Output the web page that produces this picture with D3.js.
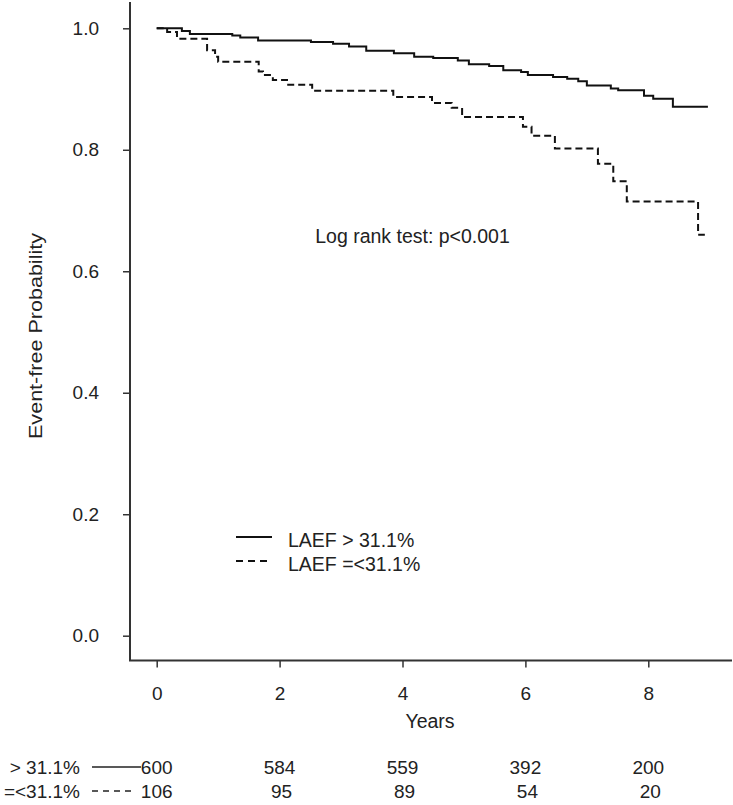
<!DOCTYPE html>
<html><head><meta charset="utf-8">
<script src="https://cdn.jsdelivr.net/npm/d3@7"></script>
<style>html,body{margin:0;padding:0;background:#fff;}svg{display:block;}</style>
</head><body>
<script>
// ---- data ----
const solidTimes = [0,0.41,0.54,1.23,1.36,1.65,2.51,2.87,3.13,3.41,3.86,4.19,4.50,4.90,5.08,5.41,5.64,5.93,6.04,6.45,6.68,6.86,7.00,7.39,7.51,7.93,8.08,8.40,8.97];
const solidSurv  = [1,0.9955,0.9906,0.988,0.985,0.980,0.9775,0.9747,0.970,0.963,0.959,0.953,0.951,0.947,0.941,0.938,0.931,0.928,0.923,0.920,0.917,0.913,0.906,0.901,0.898,0.889,0.884,0.871,0.871];
const dashedTimes = [0,0.17,0.33,0.82,0.95,1.00,1.66,1.73,1.89,2.12,2.53,3.85,4.48,4.80,4.97,5.96,6.10,6.48,7.18,7.43,7.65,8.81,8.92];
const dashedSurv  = [1,0.994,0.983,0.964,0.953,0.945,0.929,0.923,0.915,0.907,0.897,0.887,0.877,0.869,0.854,0.838,0.823,0.802,0.777,0.748,0.715,0.660,0.660];
const xTicks = [0,2,4,6,8];
const yTicks = [0,0.2,0.4,0.6,0.8,1.0];
const groupLabels = ["> 31.1%", "=<31.1%"];
const legendLabels = ["LAEF > 31.1%", "LAEF =<31.1%"];
const atRiskTimes = [0,2,4,6,8];
const atRiskSolid = [600,584,559,392,200];
const atRiskDashed = [106,95,89,54,20];
const annotation = "Log rank test: p<0.001";
const xTitle = "Years";
const yTitle = "Event-free Probability";

// ---- chart ----
const W = 733, H = 805;
const svg = d3.select("body").append("svg").attr("width", W).attr("height", H);
const font = "'Liberation Sans', Arial, sans-serif";
const axisCol = "#333";
const txtCol = "#222";
const x = d3.scaleLinear().domain([0, 8]).range([156.7, 648.3]);
const y = d3.scaleLinear().domain([0, 1]).range([635.7, 28.3]);
const axisX = 130, axisY = 660.5;

// axes lines
svg.append("line").attr("x1", axisX).attr("x2", axisX).attr("y1", 2).attr("y2", axisY)
  .attr("stroke", axisCol).attr("stroke-width", 2);
svg.append("line").attr("x1", axisX - 1).attr("x2", 732).attr("y1", axisY).attr("y2", axisY)
  .attr("stroke", axisCol).attr("stroke-width", 2);

// y axis
const yAx = svg.append("g").attr("transform", `translate(${axisX},0)`)
  .call(d3.axisLeft(y).tickValues(yTicks).tickFormat(d3.format(".1f")).tickSize(7).tickPadding(24));
yAx.select(".domain").remove();
yAx.selectAll(".tick line").attr("stroke", axisCol).attr("stroke-width", 1.5);
yAx.selectAll("text").attr("font-family", font).attr("font-size", 19).attr("fill", txtCol);

// x axis
const xAx = svg.append("g").attr("transform", `translate(0,${axisY})`)
  .call(d3.axisBottom(x).tickValues(xTicks).tickFormat(d3.format("d")).tickSize(7).tickPadding(19));
xAx.select(".domain").remove();
xAx.selectAll(".tick line").attr("stroke", axisCol).attr("stroke-width", 1.5);
xAx.selectAll("text").attr("font-family", font).attr("font-size", 19).attr("fill", txtCol);

// titles
svg.append("text").attr("x", 430).attr("y", 728).attr("text-anchor", "middle")
  .attr("font-family", font).attr("font-size", 19.5).attr("fill", txtCol).text(xTitle);
svg.append("text").attr("transform", "translate(42,336) rotate(-90)").attr("text-anchor", "middle")
  .attr("font-family", font).attr("font-size", 19).attr("fill", txtCol)
  .attr("textLength", 206).attr("lengthAdjust", "spacingAndGlyphs").text(yTitle);

// curves
const line = d3.line().x(d => x(d[0])).y(d => y(d[1])).curve(d3.curveStepAfter);
const solidData = solidTimes.map((t, i) => [t, solidSurv[i]]);
const dashedData = dashedTimes.map((t, i) => [t, dashedSurv[i]]);
svg.append("path").datum(solidData).attr("d", line).attr("fill", "none")
  .attr("stroke", "#111").attr("stroke-width", 2);
svg.append("path").datum(dashedData).attr("d", line).attr("fill", "none")
  .attr("stroke", "#111").attr("stroke-width", 2).attr("stroke-dasharray", "7,4");

// annotation
svg.append("text").attr("x", 412.5).attr("y", 243).attr("text-anchor", "middle")
  .attr("font-family", font).attr("font-size", 19.5).attr("fill", txtCol).text(annotation);

// legend
const legY = [537, 561];
legendLabels.forEach((lab, i) => {
  svg.append("line").attr("x1", 236).attr("x2", 272).attr("y1", legY[i]).attr("y2", legY[i])
    .attr("stroke", "#111").attr("stroke-width", 2).attr("stroke-dasharray", i ? "7,5" : null);
  svg.append("text").attr("x", 288).attr("y", legY[i] + 10)
    .attr("font-family", font).attr("font-size", 19.5).attr("fill", txtCol).text(lab);
});

// at-risk table
const rowY = [767, 791];
[atRiskSolid, atRiskDashed].forEach((vals, r) => {
  svg.append("text").attr("x", 80).attr("y", rowY[r] + 7).attr("text-anchor", "end")
    .attr("font-family", font).attr("font-size", 19).attr("fill", txtCol).text(groupLabels[r]);
  svg.append("line").attr("x1", 92).attr("x2", r ? 135 : 141).attr("y1", rowY[r]).attr("y2", rowY[r])
    .attr("stroke", "#222").attr("stroke-width", 1.5).attr("stroke-dasharray", r ? "6,5" : null);
  svg.selectAll(null).data(vals).enter().append("text")
    .attr("x", (d, i) => x(atRiskTimes[i]) + (r && i ? 2 : 0)).attr("y", rowY[r] + 7)
    .attr("text-anchor", "middle").attr("font-family", font).attr("font-size", 19).attr("fill", txtCol)
    .text(d => d);
});
</script>
</body></html>
